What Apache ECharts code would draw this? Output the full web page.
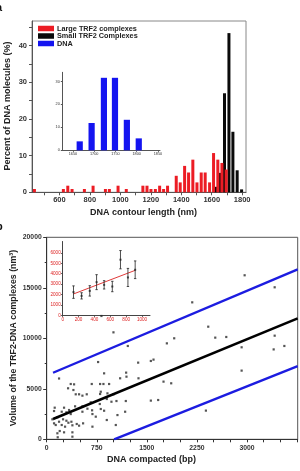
<!DOCTYPE html>
<html><head><meta charset="utf-8">
<script src="https://cdn.jsdelivr.net/npm/echarts@6/dist/echarts.min.js"></script>
<style>html,body{margin:0;padding:0;background:#fff}#c{width:300px;height:471px}</style>
</head><body><div id="c"></div>
<script>
// ---- Panel a: histogram of DNA contour length ----
const largeLen = [436,626,655,683,764,821,902,928,985,1039,1148,1175,1201,1230,1258,1284,1310,1367,1393,1422,1448,1476,1503,1531,1557,1586,1612,1640,1667,1695];
const largePct = [0.9,0.9,1.8,0.9,0.9,1.8,0.9,0.9,1.8,0.9,1.8,1.8,0.9,0.9,1.8,0.9,1.8,4.5,2.7,7.2,5.4,8.9,2.7,5.4,5.4,2.7,10.7,8.9,8.0,6.2];
const smallLen = [1627,1656,1684,1713,1739,1767,1796];
const smallPct = [1.5,5.3,27.0,43.4,16.5,6.0,0.8];
const dnaLen = [1666,1694,1723,1749,1777,1805];
const dnaPct = [3.9,11.9,31.6,31.6,13.3,5.2];
const aXLabels = [600,800,1000,1200,1400,1600,1800];
const aXTicks = [500,600,700,800,900,1000,1100,1200,1300,1400,1500,1600,1700,1800];
const aYLabels = [0,10,20,30,40];
const aYTicks = [0,5,10,15,20,25,30,35,40,45];
const insAXLabels = [1650,1700,1750,1800,1850];
const insAYLabels = [0,10,20,30];

// ---- Panel b: volume vs DNA compacted ----
const bpCompacted = [85,110,110,120,135,160,160,165,185,185,195,225,225,245,260,260,275,295,295,320,325,335,360,360,370,385,385,385,400,410,425,435,450,485,485,535,535,535,545,600,610,660,675,680,685,685,735,770,795,800,800,810,810,820,850,860,860,900,900,910,935,970,1000,1000,1035,1045,1060,1100,1175,1185,1190,1195,1215,1370,1375,1560,1600,1560,1670,1750,1800,1865,1910,2180,2385,2420,2525,2690,2920,2920,2965,3400,3415,3415,3560];
const volume = [1980,2800,1580,3130,1415,2180,595,200,1740,6020,820,2730,1415,1980,3130,690,1250,2670,1840,5050,1640,2900,5475,2500,1740,1385,690,260,4880,5440,3265,4455,1515,4455,1350,4320,3265,2730,1580,4455,3030,3660,5475,2870,2500,1250,2240,7650,3495,5475,4485,4710,3000,12210,5475,6530,2830,3990,1910,4550,5475,3720,10590,4455,1415,3790,2400,6040,2730,3790,6600,6200,9240,7590,6040,7755,7890,3830,3890,5710,9500,5545,10000,13560,2840,11150,10065,10130,6800,9110,16240,8900,10260,15050,9240];
const bXLabels = [0,750,1500,2250,3000];
const bXTicks = [0,250,500,750,1000,1250,1500,1750,2000,2250,2500,2750,3000,3250,3500,3750];
const fitX = [95,3760], fitY = [2010,11970];
const upperX = [95,3760], upperY = [6590,16830];
const lowerX = [1010,3760], lowerY = [0,7250];
const binBp = [136,238,341,427,522,625,728,822,913];
const binVol = [2230,1870,2350,3190,2930,2770,5350,3640,4380];
const binErr = [600,300,500,720,400,500,880,870,850];
const insFitX = [135,915], insFitY = [2050,4330];
const insBXLabels = [0,200,400,600,800,1000];
const insBYLabels = [0,1000,2000,3000,4000,5000,6000];

const FONT = 'Liberation Sans, Arial, sans-serif';
const pairs = (xs, ys) => xs.map((x, i) => [x, ys[i]]);
const plain = v => String(v);

const chart = echarts.init(document.getElementById('c'), null, {renderer: 'canvas'});
const axLine = c => ({show: true, lineStyle: {color: c, width: 1}});

chart.setOption({
  animation: false,
  backgroundColor: '#fff',
  grid: [
    {left: 32, top: 21, width: 214, height: 171.3, show: true, borderColor: '#888', borderWidth: 1},
    {left: 62.3, top: 72.3, width: 97.7, height: 78},
    {left: 46.7, top: 237.3, width: 251, height: 202, show: true, borderColor: '#555', borderWidth: 1},
    {left: 62.7, top: 241.5, width: 87.3, height: 73.8}
  ],
  xAxis: [
    {gridIndex: 0, type: 'value', min: 420, max: 1825, axisLine: axLine('#555'),
     axisTick: {show: true, customValues: aXTicks, length: 3, inside: false, lineStyle: {color: '#555'}},
     axisLabel: {customValues: aXLabels, formatter: plain, fontFamily: FONT, fontWeight: 'bold', fontSize: 7.5, color: '#333', margin: 4},
     splitLine: {show: false}},
    {gridIndex: 1, type: 'value', min: 1625, max: 1855, axisLine: axLine('#555'),
     axisTick: {show: true, customValues: insAXLabels, length: 1.5, lineStyle: {color: '#555'}},
     axisLabel: {customValues: insAXLabels, formatter: plain, fontFamily: FONT, fontSize: 3.8, color: '#333', margin: 2},
     splitLine: {show: false}},
    {gridIndex: 2, type: 'value', min: 0, max: 3760, axisLine: axLine('#333'),
     axisTick: {show: true, customValues: bXTicks, length: 3, lineStyle: {color: '#333'}},
     axisLabel: {customValues: bXLabels, formatter: plain, fontFamily: FONT, fontWeight: 'bold', fontSize: 6.8, color: '#333', margin: 5},
     splitLine: {show: false}},
    {gridIndex: 3, type: 'value', min: 0, max: 1100, axisLine: axLine('#444'),
     axisTick: {show: true, customValues: insBXLabels, length: 1.5, lineStyle: {color: '#444'}},
     axisLabel: {customValues: insBXLabels, formatter: plain, fontFamily: FONT, fontSize: 4.6, color: '#d22', margin: 2},
     splitLine: {show: false}}
  ],
  yAxis: [
    {gridIndex: 0, type: 'value', min: 0, max: 46.7, axisLine: axLine('#555'),
     axisTick: {show: true, customValues: aYTicks, length: 3, lineStyle: {color: '#555'}},
     axisLabel: {customValues: aYLabels, formatter: plain, fontFamily: FONT, fontWeight: 'bold', fontSize: 7.5, color: '#333', margin: 5},
     splitLine: {show: false}},
    {gridIndex: 1, type: 'value', min: 0, max: 34, axisLine: axLine('#555'),
     axisTick: {show: true, customValues: insAYLabels, length: 1.5, lineStyle: {color: '#555'}},
     axisLabel: {customValues: insAYLabels, formatter: plain, fontFamily: FONT, fontSize: 3.8, color: '#333', margin: 2.5},
     splitLine: {show: false}},
    {gridIndex: 2, type: 'value', min: 0, max: 20000, interval: 5000, axisLine: axLine('#333'),
     axisTick: {show: true, length: 3.5, lineStyle: {color: '#333'}},
     minorTick: {show: true, splitNumber: 2, length: 2, lineStyle: {color: '#333'}},
     axisLabel: {formatter: plain, fontFamily: FONT, fontWeight: 'bold', fontSize: 6.8, color: '#333', margin: 5},
     splitLine: {show: false}},
    {gridIndex: 3, type: 'value', min: 0, max: 7100, axisLine: axLine('#444'),
     axisTick: {show: true, customValues: insBYLabels, length: 1.5, lineStyle: {color: '#444'}},
     axisLabel: {customValues: insBYLabels, formatter: plain, fontFamily: FONT, fontSize: 4.6, color: '#d22', margin: 2},
     splitLine: {show: false}}
  ],
  legend: {
    left: 38, top: 25, orient: 'vertical', itemGap: 0.5, itemWidth: 16, itemHeight: 5.5, icon: 'rect',
    data: ['Large TRF2 complexes', 'Small TRF2 Complexes', 'DNA'],
    textStyle: {fontFamily: FONT, fontWeight: 'bold', fontSize: 7.3, color: '#222', padding: [0, 0, 0, -2]},
    padding: 0
  },
  series: [
    {name: 'Small TRF2 Complexes', type: 'bar', xAxisIndex: 0, yAxisIndex: 0, barWidth: 3, barGap: '-100%',
     itemStyle: {color: '#0a0a0a'}, data: pairs(smallLen, smallPct), z: 2},
    {name: 'Large TRF2 complexes', type: 'bar', xAxisIndex: 0, yAxisIndex: 0, barWidth: 3, barGap: '-100%',
     itemStyle: {color: '#ec1c24'}, data: pairs(largeLen, largePct), z: 3},
    {name: 'DNA', type: 'bar', xAxisIndex: 1, yAxisIndex: 1, barWidth: 6.2,
     itemStyle: {color: '#1414f0'}, data: pairs(dnaLen, dnaPct)},
    {name: 'points', type: 'scatter', xAxisIndex: 2, yAxisIndex: 2, symbol: 'rect', symbolSize: 2.2,
     itemStyle: {color: '#2a2a2a'}, data: pairs(bpCompacted, volume), z: 3},
    {name: 'fit', type: 'line', xAxisIndex: 2, yAxisIndex: 2, showSymbol: false, symbol: 'none',
     lineStyle: {color: '#000', width: 2.6}, data: pairs(fitX, fitY), z: 4},
    {name: 'upper', type: 'line', xAxisIndex: 2, yAxisIndex: 2, showSymbol: false, symbol: 'none',
     lineStyle: {color: '#1c1ce0', width: 2.4}, data: pairs(upperX, upperY), z: 4},
    {name: 'lower', type: 'line', xAxisIndex: 2, yAxisIndex: 2, showSymbol: false, symbol: 'none',
     lineStyle: {color: '#1c1ce0', width: 2.4}, data: pairs(lowerX, lowerY), z: 4},
    {name: 'insfit', type: 'line', xAxisIndex: 3, yAxisIndex: 3, showSymbol: false, symbol: 'none',
     lineStyle: {color: '#e03a3a', width: 1}, data: pairs(insFitX, insFitY), z: 5},
    {name: 'errbars', type: 'custom', xAxisIndex: 3, yAxisIndex: 3, z: 6,
     data: binBp.map((x, i) => [x, binVol[i] - binErr[i], binVol[i] + binErr[i]]),
     renderItem: (params, api) => {
       const lo = api.coord([api.value(0), api.value(1)]);
       const hi = api.coord([api.value(0), api.value(2)]);
       const st = {stroke: '#222', lineWidth: 0.8};
       return {type: 'group', children: [
         {type: 'line', shape: {x1: lo[0], y1: lo[1], x2: hi[0], y2: hi[1]}, style: st},
         {type: 'line', shape: {x1: lo[0] - 1.2, y1: lo[1], x2: lo[0] + 1.2, y2: lo[1]}, style: st},
         {type: 'line', shape: {x1: hi[0] - 1.2, y1: hi[1], x2: hi[0] + 1.2, y2: hi[1]}, style: st}
       ]};
     }},
    {name: 'means', type: 'scatter', xAxisIndex: 3, yAxisIndex: 3, symbol: 'rect', symbolSize: 2,
     itemStyle: {color: '#222'}, data: pairs(binBp, binVol), z: 7}
  ],
  graphic: [
    {type: 'text', x: -4, y: 2, style: {text: 'a', font: 'bold 11px ' + FONT, fill: '#111'}},
    {type: 'text', x: -4, y: 221, style: {text: 'b', font: 'bold 11px ' + FONT, fill: '#111'}},
    {type: 'text', x: 8, y: 106, rotation: Math.PI / 2,
     style: {text: 'Percent of DNA molecules (%)', font: 'bold 9px ' + FONT, fill: '#222', align: 'center', verticalAlign: 'middle'}},
    {type: 'text', x: 143.5, y: 213,
     style: {text: 'DNA contour length (nm)', font: 'bold 9px ' + FONT, fill: '#222', align: 'center', verticalAlign: 'middle'}},
    {type: 'text', x: 14, y: 338, rotation: Math.PI / 2,
     style: {text: 'Volume of the TRF2-DNA complexes (nm\u00B3)', font: 'bold 8.8px ' + FONT, fill: '#222', align: 'center', verticalAlign: 'middle'}},
    {type: 'text', x: 151.5, y: 459.3,
     style: {text: 'DNA compacted (bp)', font: 'bold 9px ' + FONT, fill: '#222', align: 'center', verticalAlign: 'middle'}}
  ]
});
</script></body></html>
